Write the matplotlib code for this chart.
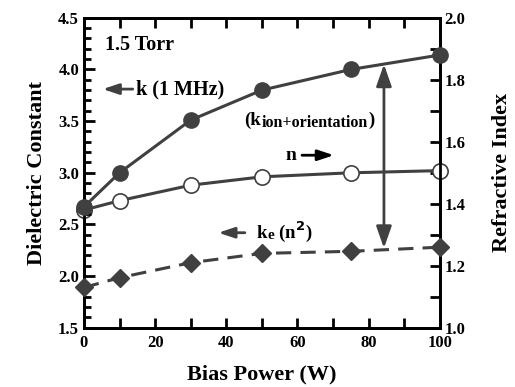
import matplotlib
matplotlib.use("Agg")
import matplotlib.pyplot as plt
from matplotlib.ticker import MultipleLocator, FormatStrFormatter

plt.rcParams["font.family"] = "Liberation Serif"
plt.rcParams["font.weight"] = "bold"
plt.rcParams["axes.labelweight"] = "bold"

# bias power (W)
bias = [0, 10, 30, 50, 75, 100]
# dielectric constant at 1 MHz
k_1mhz = [2.67, 3.00, 3.51, 3.80, 4.00, 4.14]
# electronic part, ke = n^2
k_e = [1.89, 1.985, 2.13, 2.22, 2.24, 2.28]
# refractive index (right axis)
n_index = [1.38, 1.41, 1.46, 1.487, 1.50, 1.507]

GREY = "#404040"
HEAD = "-|>,head_length=0.6,head_width=0.2"

fig = plt.figure(figsize=(5.15, 3.87), dpi=100)
ax = fig.add_axes([0.163, 0.153, 0.691, 0.801])
ax2 = ax.twinx()

ax.plot(bias, k_1mhz, "-o", color=GREY, lw=2.2, ms=11, mfc=GREY, mec=GREY, zorder=3, clip_on=False)
ax.plot(bias, k_e, "--D", color=GREY, lw=2.2, ms=9, mfc=GREY, mec=GREY, dashes=(5, 3), zorder=3, clip_on=False)
ax2.plot(bias, n_index, "-o", color=GREY, lw=2.2, ms=11, mfc="white", mec=GREY, mew=1.2, zorder=3, clip_on=False)

ax.set_xlim(0, 100)
ax.set_ylim(1.5, 4.5)
ax2.set_ylim(1.0, 2.0)

ax.xaxis.set_major_locator(MultipleLocator(20))
ax.xaxis.set_minor_locator(MultipleLocator(10))
ax.yaxis.set_major_locator(MultipleLocator(0.5))
ax.yaxis.set_minor_locator(MultipleLocator(0.1))
ax2.yaxis.set_major_locator(MultipleLocator(0.2))
ax2.yaxis.set_minor_locator(MultipleLocator(0.1))

ax.tick_params(axis="x", which="both", direction="in", top=True, width=2, length=7, labelsize=12, pad=5)
ax.tick_params(axis="y", which="major", direction="in", width=2, length=8, labelsize=12)
ax.tick_params(axis="y", which="minor", direction="in", width=2, length=5)
ax2.tick_params(axis="y", which="major", direction="in", width=2, length=7, labelsize=12)
ax2.tick_params(axis="y", which="minor", direction="in", width=2, length=7)
ax.yaxis.set_major_formatter(FormatStrFormatter("%.1f"))
ax2.yaxis.set_major_formatter(FormatStrFormatter("%.1f"))

for a in (ax, ax2):
    for s in a.spines.values():
        s.set_linewidth(2)
    for lab in a.get_xticklabels() + a.get_yticklabels():
        lab.set_fontweight("bold")

ax.set_xlabel("Bias Power (W)", fontsize=16, labelpad=10)
ax.set_ylabel("Dielectric Constant", fontsize=16, labelpad=8)
ax2.set_ylabel("Refractive Index", fontsize=16, labelpad=19)

# annotations
ax.text(6, 4.24, "1.5 Torr", fontsize=14.5, va="center")

ax.annotate("", xy=(4.5, 3.81), xytext=(14.5, 3.81),
            arrowprops=dict(arrowstyle=HEAD, color=GREY, lw=2, mutation_scale=16))
ax.text(14.5, 3.81, "k (1 MHz)", fontsize=14.5, va="center")

t1 = ax.text(45, 3.46, "(k", fontsize=13.5, va="baseline")
t2 = ax.annotate("ion+orientation", xy=(1, 3.46), xycoords=(t1, "data"), xytext=(0.5, -1),
                 textcoords="offset points", fontsize=11.5, va="baseline")
ax.annotate(")", xy=(1, 3.46), xycoords=(t2, "data"), xytext=(0.5, 0),
            textcoords="offset points", fontsize=13.5, va="baseline")

ax.text(56.5, 3.17, "n", fontsize=14, va="center")
ax.annotate("", xy=(71, 3.17), xytext=(60.5, 3.17),
            arrowprops=dict(arrowstyle=HEAD, color="black", lw=2, mutation_scale=16))

ax.annotate("", xy=(37, 2.42), xytext=(46, 2.42),
            arrowprops=dict(arrowstyle=HEAD, color=GREY, lw=2, mutation_scale=16))
t3 = ax.text(48.5, 2.37, "k", fontsize=13.5, va="baseline")
t4 = ax.annotate("e", xy=(1, 2.37), xycoords=(t3, "data"), xytext=(0.5, -1),
                 textcoords="offset points", fontsize=11, va="baseline")
ax.annotate(r" (n$^{\bf 2}$)", xy=(1, 2.37), xycoords=(t4, "data"), xytext=(0, 0),
            textcoords="offset points", fontsize=13.5, va="baseline")

ax.annotate("", xy=(84.3, 4.05), xytext=(84.3, 2.27),
            arrowprops=dict(arrowstyle="<|-|>,head_length=0.6,head_width=0.21", color=GREY, lw=2,
                            mutation_scale=22, shrinkA=0, shrinkB=0))

ax.set_zorder(ax2.get_zorder() + 1)
ax.patch.set_visible(False)

fig.savefig("out.png", dpi=100)
